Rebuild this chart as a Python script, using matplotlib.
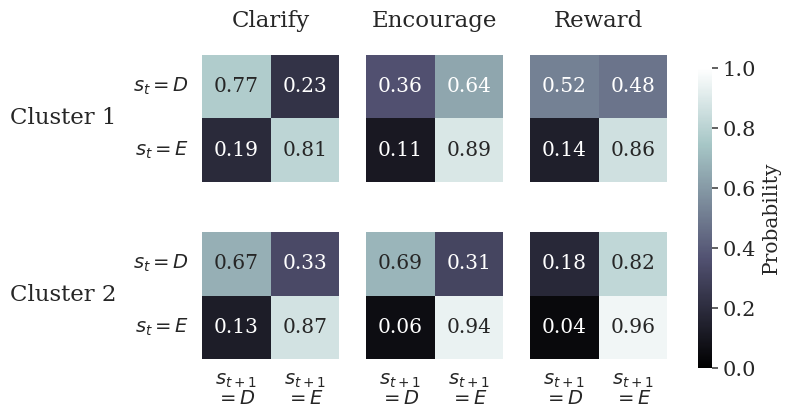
import matplotlib
matplotlib.use("Agg")
import matplotlib.pyplot as plt
import numpy as np
import seaborn as sns

sns.set_theme(style="white")
plt.rcParams['font.family'] = ['DejaVu Serif']
plt.rcParams['mathtext.fontset'] = 'dejavusans'

actions = ["Clarify", "Encourage", "Reward"]
clusters = ["Cluster 1", "Cluster 2"]
row_labels = ["$s_t = D$", "$s_t = E$"]
col_labels = ["$s_{t+1}$\n$= D$", "$s_{t+1}$\n$= E$"]

clarify_c1 = [[0.77, 0.23], [0.19, 0.81]]
clarify_c2 = [[0.67, 0.33], [0.13, 0.87]]
encourage_c1 = [[0.36, 0.64], [0.11, 0.89]]
encourage_c2 = [[0.69, 0.31], [0.06, 0.94]]
reward_c1 = [[0.52, 0.48], [0.14, 0.86]]
reward_c2 = [[0.18, 0.82], [0.04, 0.96]]

mats = [[clarify_c1, encourage_c1, reward_c1],
        [clarify_c2, encourage_c2, reward_c2]]

W, H = 788, 419
fig = plt.figure(figsize=(W / 100, H / 100), dpi=100)

lefts = [202, 366, 530]
tops = [55, 232]
size_w, size_h = 137, 127

cax = fig.add_axes([698 / W, 1 - 368 / H, 14 / W, 300 / H])

for r in range(2):
    for c in range(3):
        vals = np.array(mats[r][c])
        ax = fig.add_axes([lefts[c] / W, 1 - (tops[r] + size_h) / H, size_w / W, size_h / H])
        sns.heatmap(vals, ax=ax, cmap="bone", vmin=0, vmax=1,
                    annot=True, fmt=".2f", annot_kws={"fontsize": 14.5},
                    cbar=(r == 0 and c == 0), cbar_ax=cax if (r == 0 and c == 0) else None,
                    square=False, linewidths=0)
        # text colour: dark on light cells
        for t, v in zip(ax.texts, vals.flatten()):
            t.set_color(".15" if v > 0.65 else "white")
        ax.set_xticks([])
        ax.set_yticks([])
        if c == 0:
            ax.set_yticks([0.5, 1.5])
            ax.set_yticklabels(row_labels, rotation=0, fontsize=14)
        if r == 1:
            ax.set_xticks([0.5, 1.5])
            ax.set_xticklabels(col_labels, rotation=0, fontsize=14, linespacing=1.0)
        if r == 0:
            ax.set_title(actions[c], fontsize=16.5, pad=20)
        ax.tick_params(length=0, pad=9)

for r in range(2):
    fig.text(10 / W, 1 - (tops[r] + 63) / H, clusters[r], fontsize=16.5, ha="left", va="center")

cax.tick_params(labelsize=15, length=4, color="0.3")
cax.set_yticks([0, 0.2, 0.4, 0.6, 0.8, 1.0])
cax.set_ylabel("Probability", fontsize=14.5)
for s in cax.spines.values():
    s.set_visible(False)

fig.savefig("out.png", dpi=100)
